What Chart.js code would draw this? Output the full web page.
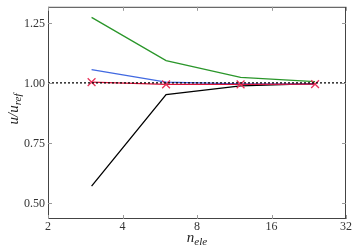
<!DOCTYPE html>
<html>
<head>
<meta charset="utf-8">
<script src="https://cdn.jsdelivr.net/npm/chart.js@4/dist/chart.umd.min.js"></script>
<style>
  html, body { margin: 0; padding: 0; background: #fff; }
</style>
</head>
<body>
<canvas id="chart" width="357" height="248"></canvas>
<script>
// Data
const nEle = [3, 6, 12, 24]
const green = [1.273, 1.093, 1.023, 1.005]
const blue = [1.055, 1.003, 0.996, 0.995]
const red = [1.003, 0.994, 0.994, 0.995]
const black = [0.570, 0.951, 0.988, 0.997]
const refLine = [1.0, 1.0]
const refX = [2, 32]
const xTicks = [2, 4, 8, 16, 32]
const yTicks = [0.5, 0.75, 1.0, 1.25]

const pts = (xs, ys) => xs.map((x, i) => ({ x: x, y: ys[i] }))
const serif = '"Liberation Serif", "DejaVu Serif", serif'

// frame, inward ticks, tick labels and axis titles with subscripts
const framePlugin = {
  id: "frame",
  afterDraw(chart) {
    const { ctx, chartArea: a, scales } = chart
    ctx.save()
    ctx.strokeStyle = "#444"
    ctx.lineWidth = 1
    ctx.strokeRect(a.left + 0.5, a.top + 0.5, a.right - a.left - 1, a.bottom - a.top - 1)
    ctx.strokeStyle = "#999"
    ctx.beginPath()
    xTicks.forEach((v) => {
      const px = Math.round(scales.x.getPixelForValue(v)) + 0.5
      ctx.moveTo(px, a.bottom); ctx.lineTo(px, a.bottom - 4)
      ctx.moveTo(px, a.top); ctx.lineTo(px, a.top + 4)
    })
    yTicks.forEach((v) => {
      const py = Math.round(scales.y.getPixelForValue(v)) + 0.5
      ctx.moveTo(a.left, py); ctx.lineTo(a.left + 4, py)
      ctx.moveTo(a.right, py); ctx.lineTo(a.right - 4, py)
    })
    ctx.stroke()

    // tick labels
    ctx.fillStyle = "#333"
    ctx.font = "12px " + serif
    ctx.textBaseline = "alphabetic"
    ctx.textAlign = "center"
    xTicks.forEach((v) => {
      ctx.fillText(String(v), scales.x.getPixelForValue(v), a.bottom + 11)
    })
    ctx.textAlign = "right"
    yTicks.forEach((v) => {
      ctx.fillText(v.toFixed(2), a.left - 3, scales.y.getPixelForValue(v) + 4)
    })

    ctx.fillStyle = "#222"
    ctx.textAlign = "left"
    // x title
    ctx.font = "italic 15px " + serif
    const w1 = ctx.measureText("n").width
    ctx.font = "italic 11px " + serif
    const w2 = ctx.measureText("ele").width
    let x0 = (a.left + a.right) / 2 - (w1 + w2) / 2
    ctx.font = "italic 15px " + serif
    ctx.fillText("n", x0, 241.5)
    ctx.font = "italic 11px " + serif
    ctx.fillText("ele", x0 + w1, 245)
    // y title
    ctx.translate(18, 109)
    ctx.rotate(-Math.PI / 2)
    ctx.font = "italic 15px " + serif
    const m1 = ctx.measureText("u/u").width
    ctx.font = "italic 11px " + serif
    const m2 = ctx.measureText("ref").width
    x0 = -(m1 + m2) / 2
    ctx.font = "italic 15px " + serif
    ctx.fillText("u/u", x0, 0)
    ctx.font = "italic 11px " + serif
    ctx.fillText("ref", x0 + m1, 3)
    ctx.restore()
  },
}

const ctx = document.getElementById("chart").getContext("2d")
new Chart(ctx, {
  type: "line",
  data: {
    datasets: [
      {
        data: pts(refX, refLine),
        borderColor: "#000",
        borderWidth: 1.3,
        borderDash: [2, 2],
        pointRadius: 0,
      },
      {
        data: pts(nEle, red),
        borderColor: "#dc143c",
        borderWidth: 1.3,
        pointStyle: "crossRot",
        pointRadius: 5.5,
        pointBorderColor: "#e8335a",
        pointBorderWidth: 1.3,
      },
      {
        data: pts(nEle, blue),
        borderColor: "#4169e1",
        borderWidth: 1.3,
        pointRadius: 0,
      },
      {
        data: pts(nEle, black),
        borderColor: "#000",
        borderWidth: 1.3,
        pointRadius: 0,
      },
      {
        data: pts(nEle, green),
        borderColor: "#2a962a",
        borderWidth: 1.3,
        pointRadius: 0,
      },
    ],
  },
  options: {
    responsive: false,
    animation: false,
    layout: { padding: { top: 3, right: 11, left: 0, bottom: 0 } },
    plugins: { legend: { display: false }, tooltip: { enabled: false } },
    scales: {
      x: {
        type: "logarithmic",
        min: 2,
        max: 32,
        grid: { display: false },
        border: { display: false },
        ticks: { display: false },
        afterFit: (s) => { s.height = 29 },
      },
      y: {
        min: 0.433,
        max: 1.317,
        grid: { display: false },
        border: { display: false },
        ticks: { display: false },
        afterFit: (s) => { s.width = 48 },
      },
    },
  },
  plugins: [framePlugin],
})
</script>
</body>
</html>
